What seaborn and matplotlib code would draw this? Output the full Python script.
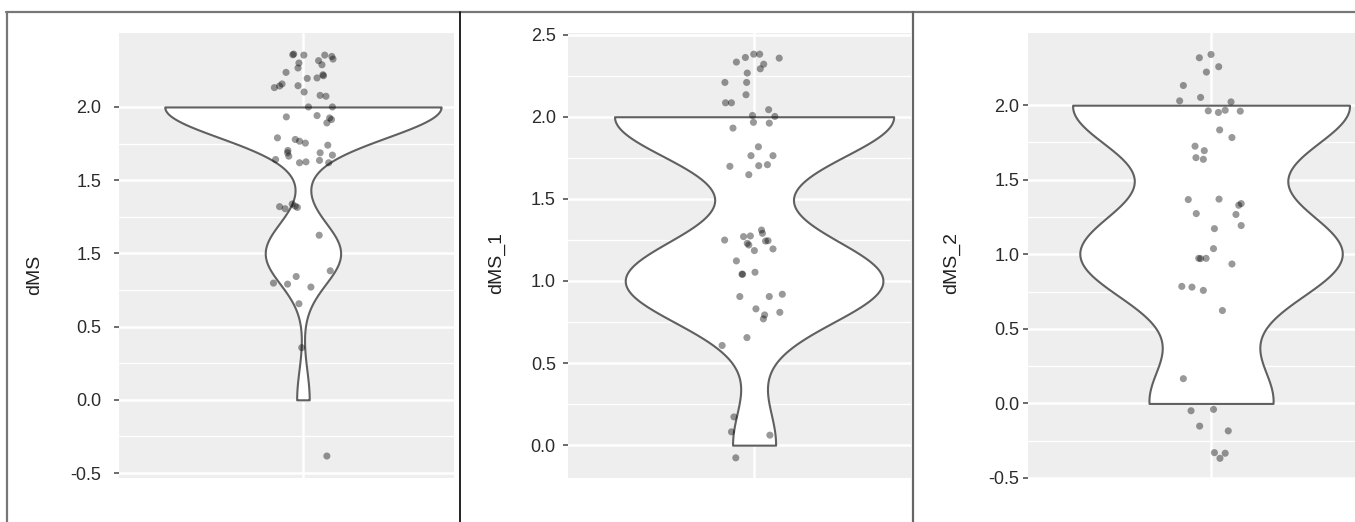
import numpy as np
import matplotlib
matplotlib.use("Agg")
import matplotlib.pyplot as plt
from matplotlib.lines import Line2D
import seaborn as sns

# ---- data: each point is a score (0, 1 or 2) shown with jitter ----
dms_x = [-0.030, 0.003, 0.071, 0.094, 0.098, 0.051, 0.062, -0.013, -0.016, -0.055,
         0.065, 0.067, 0.046, 0.014, -0.068, -0.076, -0.093, -0.016, 0.004, 0.056,
         0.075, 0.018, 0.096, -0.054, 0.046, 0.087, 0.093, 0.078, -0.083, -0.025,
         -0.011, 0.008, 0.081, -0.049, -0.050, -0.046, 0.056, 0.096, -0.089, -0.011,
         0.010, 0.054, 0.084, -0.033,
         -0.076, -0.058, -0.035, -0.025, -0.018, 0.053, 0.089, -0.022, -0.096, -0.050,
         0.026, -0.013, -0.004, 0.078]
dms_y = [2.361, 2.354, 2.354, 2.345, 2.327, 2.316, 2.288, 2.300, 2.266, 2.236,
         2.220, 2.213, 2.198, 2.195, 2.157, 2.143, 2.132, 2.145, 2.102, 2.079,
         2.073, 2.000, 2.000, 1.932, 1.941, 1.925, 1.914, 1.891, 1.789, 1.778,
         1.766, 1.753, 1.739, 1.703, 1.687, 1.664, 1.687, 1.671, 1.641, 1.619,
         1.625, 1.635, 1.619, 2.356,
         1.319, 1.305, 1.337, 1.323, 1.314, 1.124, 0.881, 0.842, 0.797, 0.790,
         0.770, 0.656, 0.356, -0.384]

dms1_x = [-0.057, -0.028, -0.001, 0.018, 0.081, 0.031, 0.020, -0.022, -0.094, -0.024,
          -0.026, -0.092, -0.073, 0.047, -0.005, 0.067, -0.068, -0.002, 0.049, 0.014,
          -0.010, 0.061, -0.078, 0.015, 0.043, -0.017,
          -0.095, -0.034, -0.012, 0.024, 0.027, -0.022, -0.017, 0.037, 0.045, 0.061,
          0.001, -0.057, -0.039, -0.037, 0.003, -0.046, 0.049, 0.091, 0.006, 0.034,
          0.030, 0.083, -0.023, -0.103,
          -0.065, -0.073, 0.051, -0.059]
dms1_y = [2.333, 2.361, 2.381, 2.381, 2.357, 2.320, 2.292, 2.266, 2.209, 2.209,
          2.134, 2.085, 2.085, 2.043, 2.008, 2.002, 1.931, 1.966, 1.961, 1.817,
          1.763, 1.763, 1.698, 1.702, 1.708, 1.647,
          1.249, 1.270, 1.274, 1.310, 1.290, 1.229, 1.219, 1.243, 1.245, 1.195,
          1.185, 1.122, 1.041, 1.041, 1.053, 0.905, 0.905, 0.919, 0.830, 0.793,
          0.769, 0.809, 0.655, 0.607,
          0.172, 0.081, 0.061, -0.077]

dms2_x = [-0.038, 0.000, 0.025, -0.015, -0.090, -0.102, -0.034, 0.065, -0.009, 0.024,
          0.046, 0.095, 0.028, 0.068, -0.052, -0.022, -0.049, -0.025,
          -0.074, 0.026, 0.098, 0.090, -0.048, 0.081, 0.098, 0.011, 0.008, -0.040,
          -0.034, -0.016, 0.068, -0.095, -0.062, -0.025, 0.037,
          -0.090, -0.065, 0.008, -0.037, 0.056, 0.011, 0.029, 0.046]
dms2_y = [2.318, 2.340, 2.258, 2.222, 2.132, 2.029, 2.052, 2.022, 1.962, 1.951,
          1.966, 1.960, 1.834, 1.783, 1.725, 1.695, 1.648, 1.637,
          1.367, 1.370, 1.340, 1.329, 1.273, 1.267, 1.193, 1.172, 1.038, 0.973,
          0.971, 0.973, 0.935, 0.785, 0.780, 0.758, 0.623,
          0.166, -0.049, -0.040, -0.152, -0.184, -0.330, -0.368, -0.334]

titles = ["dMS", "dMS_1", "dMS_2"]
ticks_1 = [2.0, 1.5, 1.0, 0.5, 0.0, -0.5]
tick_labels_1 = ["2.0", "1.5", "1.5", "0.5", "0.0", "-0.5"]
ticks_2 = [0.0, 0.5, 1.0, 1.5, 2.0, 2.5]
tick_labels_2 = ["0.0", "0.5", "1.0", "1.5", "2.0", "2.5"]
ticks_3 = [-0.5, 0.0, 0.5, 1.0, 1.5, 2.0]
tick_labels_3 = ["-0.5", "0.0", "0.5", "1.0", "1.5", "2.0"]

# ---- style ----
sns.set_theme(style="darkgrid", rc={
    "axes.facecolor": "#EEEEEE",
    "grid.color": "white",
    "axes.edgecolor": "none",
})
plt.rcParams["font.family"] = ["Liberation Sans", "DejaVu Sans"]

W, H = 1355, 522
fig = plt.figure(figsize=(W / 100, H / 100), dpi=100)
fig.patch.set_facecolor("white")


def nrd0(v):
    """Silverman's rule of thumb as used by R's density()."""
    v = np.asarray(v, float)
    sd = np.std(v, ddof=1)
    q75, q25 = np.percentile(v, [75, 25])
    lo = min(sd, (q75 - q25) / 1.34)
    if lo == 0:
        lo = sd
    return 0.9 * lo * len(v) ** -0.2


def px_axes(left, right, top, bottom):
    return fig.add_axes([left / W, 1 - bottom / H, (right - left) / W, (bottom - top) / H])


panels = [
    dict(box=(119, 454, 33, 478), xlim=(-0.599, 0.492), ylim=(-0.534, 2.505),
         x=dms_x, y=dms_y, ticks=ticks_1, labels=tick_labels_1, pad=9.0,
         title_xy=(34.5, 275)),
    dict(box=(568, 911, 33, 478), xlim=(-0.600, 0.506), ylim=(-0.200, 2.510),
         x=dms1_x, y=dms1_y, ticks=ticks_2, labels=tick_labels_2, pad=5.0,
         title_xy=(496.5, 263)),
    dict(box=(1028, 1355, 33, 478), xlim=(-0.595, 0.468), ylim=(-0.500, 2.484),
         x=dms2_x, y=dms2_y, ticks=ticks_3, labels=tick_labels_3, pad=2.5,
         title_xy=(951.5, 263)),
]

for p, title in zip(panels, titles):
    ax = px_axes(*p["box"])
    ax.set_axisbelow(True)
    yvals = np.asarray(p["y"])
    scores = np.rint(yvals)
    bw = nrd0(scores)
    sns.violinplot(y=scores, ax=ax, cut=0, inner=None, width=0.9,
                   density_norm="width", bw_method=bw / np.std(scores, ddof=1),
                   gridsize=300, color="white", saturation=1,
                   linecolor="#606060", linewidth=1.5)
    sns.scatterplot(x=p["x"], y=yvals, ax=ax, color="black", alpha=0.40,
                    s=26, edgecolor="none", zorder=3)

    ax.set_xlim(*p["xlim"])
    ax.set_ylim(*p["ylim"])
    ax.set_xticks([0])
    ax.set_yticks(p["ticks"])
    ax.set_yticklabels(p["labels"])
    t = np.asarray(p["ticks"])
    ax.set_yticks(np.sort(t)[:-1] + 0.25, minor=True)
    ax.grid(which="major", color="white", linewidth=1.8)
    ax.grid(which="minor", axis="y", color="white", linewidth=0.9)
    ax.tick_params(axis="x", length=0, labelbottom=False)
    ax.tick_params(axis="y", which="major", left=True, length=3.8, width=1.1,
                   color="#444444", labelsize=13, labelcolor="#2b2b2b", pad=p["pad"])
    ax.tick_params(axis="y", which="minor", length=0)
    ax.set_xlabel("")
    ax.set_ylabel("")
    for s in ax.spines.values():
        s.set_visible(False)
    tx, ty = p["title_xy"]
    fig.text(tx / W, 1 - ty / H, title, rotation=90, ha="center", va="center",
             fontsize=14, color="#222222")

# frame lines around and between the panels
def fline(x0, y0, x1, y1, color, lw):
    fig.add_artist(Line2D([x0 / W, x1 / W], [1 - y0 / H, 1 - y1 / H],
                          transform=fig.transFigure, color=color, linewidth=lw))

fline(6, 12, W, 12, "#777777", 1.6)
fline(7, 12, 7, H, "#777777", 1.6)
fline(460, 12, 460, H, "#111111", 1.3)
fline(913, 12, 913, H, "#666666", 1.6)

fig.savefig("out.png", dpi=100, facecolor="white")
